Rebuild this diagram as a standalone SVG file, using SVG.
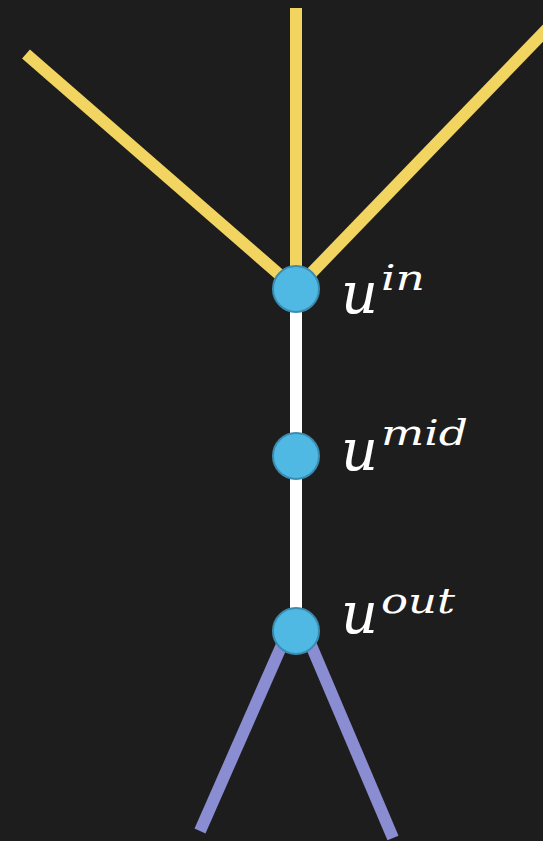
<svg xmlns="http://www.w3.org/2000/svg" width="543" height="841" viewBox="0 0 543 841">
<style>
.bg{fill:#1d1d1d}
.yel{stroke:#f2d461;stroke-width:12;fill:none}
.wht{stroke:#ffffff;stroke-width:12;fill:none}
.pur{stroke:#8a8dd2;stroke-width:12;fill:none}
.node{fill:#4fb9e3;stroke:#3a8db0;stroke-width:2}
.lbl{font-family:"DejaVu Serif","Liberation Serif",serif;font-style:italic;fill:#ffffff}
.base{font-size:57px}
.sup{font-size:36px}
</style>
<rect class="bg" x="0" y="0" width="543" height="841"/>
<g id="connectors">
<line class="yel" x1="296" y1="8" x2="296" y2="289"/>
<line class="yel" x1="26" y1="54" x2="296" y2="289"/>
<line class="yel" x1="548" y1="28" x2="296" y2="289"/>
<line class="wht" x1="296" y1="289" x2="296" y2="631"/>
<line class="pur" x1="288" y1="631" x2="200" y2="831"/>
<line class="pur" x1="305" y1="631" x2="393" y2="838"/>
</g>
<g id="node-in">
<circle class="node" cx="296" cy="289" r="23"/>
<text class="lbl" x="341" y="313"><tspan class="base" textLength="37" lengthAdjust="spacingAndGlyphs">u</tspan><tspan class="sup" x="381" y="290" textLength="44" lengthAdjust="spacingAndGlyphs">in</tspan></text>
</g>
<g id="node-mid">
<circle class="node" cx="296" cy="456" r="23"/>
<text class="lbl" x="341" y="470"><tspan class="base" textLength="37" lengthAdjust="spacingAndGlyphs">u</tspan><tspan class="sup" x="381" y="445" textLength="87" lengthAdjust="spacingAndGlyphs">mid</tspan></text>
</g>
<g id="node-out">
<circle class="node" cx="296" cy="631" r="23"/>
<text class="lbl" x="341" y="633"><tspan class="base" textLength="37" lengthAdjust="spacingAndGlyphs">u</tspan><tspan class="sup" x="381" y="613" textLength="74" lengthAdjust="spacingAndGlyphs">out</tspan></text>
</g>
</svg>
